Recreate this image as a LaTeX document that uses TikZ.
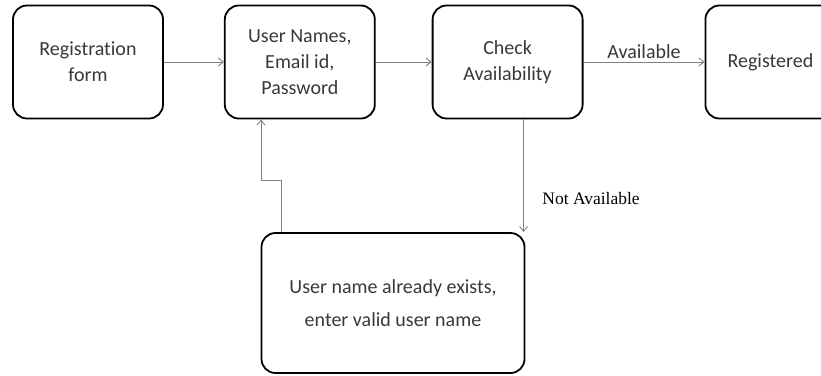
\documentclass[tikz,border=0pt]{standalone}
\usepackage{fontspec}
\setmainfont{Carlito}[Ligatures=NoCommon]
\newfontfamily\notefont{Liberation Serif}
\usetikzlibrary{positioning, arrows.meta}
\tikzset{->,
         >={Straight Barb[length=5pt, width=8pt]},
         node distance=60pt,
         box/.style={draw=black, line width=1.8pt, rounded corners=14pt,
                     minimum width=150pt, minimum height=113pt, align=center,
                     text=black!78, font=\fontsize{20}{26}\selectfont},
         flow/.style={draw=black!50, line width=0.9pt},
         }

\begin{document}
\begin{tikzpicture}[x=1pt, y=1pt]
    \useasboundingbox (0,0) rectangle (821,-375);
    \clip (0,0) rectangle (821,-375);
    \node[box] (form) at (88,-62) {Registration\\form};
    \node[box, right=60pt of form] (details) {User Names,\\Email id,\\Password};
    \node[box, right=56pt of details] (check) {Check\\Availability};
    \node[box, minimum width=130pt, right=121pt of check] (done) {Registered};
    \node[box, minimum width=263pt, minimum height=140pt,
          font=\fontsize{20}{33}\selectfont] (exists) at (393,-303)
          {User name already exists,\\enter valid user name};
    \coordinate (bend) at (261,-180);

    \draw[flow] (form) -- (details);
    \draw[flow] (details) -- (check);
    \draw[flow] (check) -- node[above, text=black!78, font=\fontsize{20}{24}\selectfont] {Available} (done);
    \draw[flow] ([xshift=16pt]check.south) -- ([xshift=16pt]check.south |- exists.north)
        node[pos=0.7, right=15pt, font=\notefont\fontsize{17.5}{20}\selectfont] {Not Available};
    \draw[flow] ([xshift=-112pt]exists.north) |- (bend) -- (bend |- details.south);
\end{tikzpicture}
\end{document}
